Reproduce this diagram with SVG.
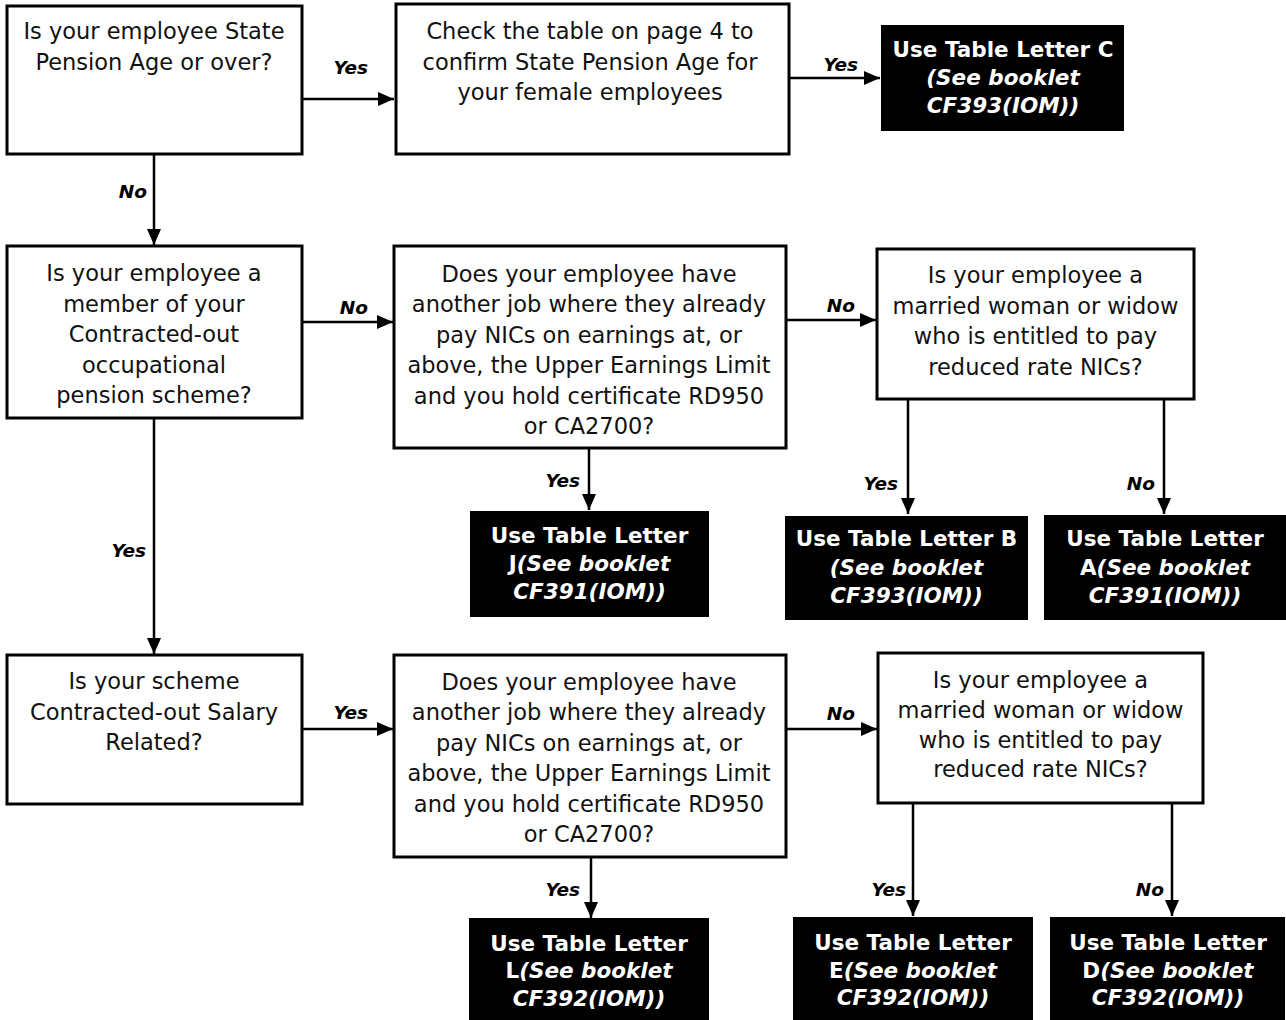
<svg xmlns="http://www.w3.org/2000/svg" width="1286" height="1020" viewBox="0 0 1286 1020">
<defs>
<style>
.box{fill:#fff;stroke:#000;stroke-width:3}
.end{fill:#000}
.t{font-family:"DejaVu Sans","Liberation Sans",sans-serif;font-size:22.5px;fill:#111;text-anchor:middle}
.w{font-family:"DejaVu Sans","Liberation Sans",sans-serif;font-size:21.5px;font-weight:bold;fill:#fff;text-anchor:middle}
.i{font-style:italic}
.lbl{font-family:"DejaVu Sans","Liberation Sans",sans-serif;font-size:18.5px;font-weight:bold;font-style:italic;fill:#000}
.c{stroke:#000;stroke-width:2.5;fill:none;marker-end:url(#ah)}
</style>
<marker id="ah" markerUnits="userSpaceOnUse" markerWidth="16" markerHeight="14" refX="16" refY="7" orient="auto">
<path d="M0,0 L16,7 L0,14 z" fill="#000"/>
</marker>
</defs>
<rect width="1286" height="1020" fill="#fff"/>
<g id="connectors">
<line class="c" x1="302" y1="99" x2="394" y2="99"/>
<line class="c" x1="789" y1="78" x2="880" y2="78"/>
<line class="c" x1="154" y1="155" x2="154" y2="245"/>
<line class="c" x1="302" y1="322" x2="393" y2="322"/>
<line class="c" x1="154" y1="418" x2="154" y2="654"/>
<line class="c" x1="589" y1="448" x2="589" y2="510"/>
<line class="c" x1="786" y1="320" x2="876" y2="320"/>
<line class="c" x1="908" y1="399" x2="908" y2="514"/>
<line class="c" x1="1164" y1="399" x2="1164" y2="514"/>
<line class="c" x1="302" y1="729" x2="393" y2="729"/>
<line class="c" x1="591" y1="857" x2="591" y2="918"/>
<line class="c" x1="786" y1="729" x2="877" y2="729"/>
<line class="c" x1="913" y1="803" x2="913" y2="916"/>
<line class="c" x1="1172" y1="799" x2="1172" y2="916"/>
<text class="lbl" x="368" y="74" text-anchor="end">Yes</text>
<text class="lbl" x="858" y="71" text-anchor="end">Yes</text>
<text class="lbl" x="147" y="198" text-anchor="end">No</text>
<text class="lbl" x="368" y="314" text-anchor="end">No</text>
<text class="lbl" x="146" y="557" text-anchor="end">Yes</text>
<text class="lbl" x="580" y="487" text-anchor="end">Yes</text>
<text class="lbl" x="855" y="312" text-anchor="end">No</text>
<text class="lbl" x="898" y="490" text-anchor="end">Yes</text>
<text class="lbl" x="1155" y="490" text-anchor="end">No</text>
<text class="lbl" x="368" y="719" text-anchor="end">Yes</text>
<text class="lbl" x="580" y="896" text-anchor="end">Yes</text>
<text class="lbl" x="855" y="720" text-anchor="end">No</text>
<text class="lbl" x="906" y="896" text-anchor="end">Yes</text>
<text class="lbl" x="1164" y="896" text-anchor="end">No</text>
</g>
<g id="q-state-pension">
<rect class="box" x="7" y="6" width="295" height="148"/>
<text class="t" x="154" y="39">Is your employee State</text>
<text class="t" x="154" y="69.5">Pension Age or over?</text>
</g>
<g id="check-table">
<rect class="box" x="396" y="4" width="393" height="150"/>
<text class="t" x="590" y="39">Check the table on page 4 to</text>
<text class="t" x="590" y="69.5">confirm State Pension Age for</text>
<text class="t" x="590" y="100">your female employees</text>
</g>
<g id="letter-c">
<rect class="end" x="881" y="25" width="243" height="106"/>
<text class="w" x="1003" y="57">Use Table Letter C</text>
<text class="w i" x="1003" y="85">(See booklet</text>
<text class="w i" x="1003" y="113">CF393(IOM))</text>
</g>
<g id="q-contracted-out">
<rect class="box" x="7" y="246" width="295" height="172"/>
<text class="t" x="154" y="281">Is your employee a</text>
<text class="t" x="154" y="311.5">member of your</text>
<text class="t" x="154" y="342">Contracted-out</text>
<text class="t" x="154" y="372.5">occupational</text>
<text class="t" x="154" y="403">pension scheme?</text>
</g>
<g id="q-another-job-1">
<rect class="box" x="394" y="246" width="392" height="202"/>
<text class="t" x="589" y="281.5">Does your employee have</text>
<text class="t" x="589" y="312">another job where they already</text>
<text class="t" x="589" y="342.5">pay NICs on earnings at, or</text>
<text class="t" x="589" y="373">above, the Upper Earnings Limit</text>
<text class="t" x="589" y="403.5">and you hold certificate RD950</text>
<text class="t" x="589" y="434">or CA2700?</text>
</g>
<g id="letter-j">
<rect class="end" x="470" y="511" width="239" height="106"/>
<text class="w" x="589.5" y="543">Use Table Letter</text>
<text class="w" x="589.5" y="571">J<tspan class="i">(See booklet</tspan></text>
<text class="w i" x="589.5" y="599">CF391(IOM))</text>
</g>
<g id="q-married-woman-1">
<rect class="box" x="877" y="249" width="317" height="150"/>
<text class="t" x="1035.5" y="283">Is your employee a</text>
<text class="t" x="1035.5" y="313.5">married woman or widow</text>
<text class="t" x="1035.5" y="344">who is entitled to pay</text>
<text class="t" x="1035.5" y="374.5">reduced rate NICs?</text>
</g>
<g id="letter-b">
<rect class="end" x="785" y="516" width="243" height="104"/>
<text class="w" x="906.5" y="546">Use Table Letter B</text>
<text class="w i" x="906.5" y="575">(See booklet</text>
<text class="w i" x="906.5" y="603">CF393(IOM))</text>
</g>
<g id="letter-a">
<rect class="end" x="1044" y="515" width="242" height="105"/>
<text class="w" x="1165" y="546">Use Table Letter</text>
<text class="w" x="1165" y="575">A<tspan class="i">(See booklet</tspan></text>
<text class="w i" x="1165" y="603">CF391(IOM))</text>
</g>
<g id="q-salary-related">
<rect class="box" x="7" y="655" width="295" height="149"/>
<text class="t" x="154" y="689">Is your scheme</text>
<text class="t" x="154" y="719.5">Contracted-out Salary</text>
<text class="t" x="154" y="750">Related?</text>
</g>
<g id="q-another-job-2">
<rect class="box" x="394" y="655" width="392" height="202"/>
<text class="t" x="589" y="689.5">Does your employee have</text>
<text class="t" x="589" y="720">another job where they already</text>
<text class="t" x="589" y="750.5">pay NICs on earnings at, or</text>
<text class="t" x="589" y="781">above, the Upper Earnings Limit</text>
<text class="t" x="589" y="811.5">and you hold certificate RD950</text>
<text class="t" x="589" y="842">or CA2700?</text>
</g>
<g id="letter-l">
<rect class="end" x="469" y="918" width="240" height="102"/>
<text class="w" x="589" y="950.5">Use Table Letter</text>
<text class="w" x="589" y="978">L<tspan class="i">(See booklet</tspan></text>
<text class="w i" x="589" y="1005.5">CF392(IOM))</text>
</g>
<g id="q-married-woman-2">
<rect class="box" x="878" y="653" width="325" height="150"/>
<text class="t" x="1040.5" y="688">Is your employee a</text>
<text class="t" x="1040.5" y="718">married woman or widow</text>
<text class="t" x="1040.5" y="747.5">who is entitled to pay</text>
<text class="t" x="1040.5" y="777">reduced rate NICs?</text>
</g>
<g id="letter-e">
<rect class="end" x="793" y="917" width="240" height="103"/>
<text class="w" x="913" y="950">Use Table Letter</text>
<text class="w" x="913" y="978">E<tspan class="i">(See booklet</tspan></text>
<text class="w i" x="913" y="1005">CF392(IOM))</text>
</g>
<g id="letter-d">
<rect class="end" x="1050" y="917" width="235" height="103"/>
<text class="w" x="1168" y="950">Use Table Letter</text>
<text class="w" x="1168" y="978">D<tspan class="i">(See booklet</tspan></text>
<text class="w i" x="1168" y="1005">CF392(IOM))</text>
</g>
</svg>
